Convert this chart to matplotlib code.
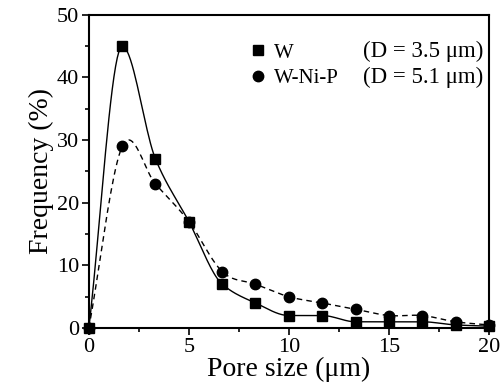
import numpy as np
import matplotlib
matplotlib.use("Agg")
import matplotlib.pyplot as plt
from matplotlib.ticker import MultipleLocator

plt.rcParams['font.family'] = ['Liberation Serif', 'DejaVu Serif']

# pore size classes (um)
pore_size = [0, 1.67, 3.33, 5, 6.67, 8.33, 10, 11.67, 13.33, 15, 16.67, 18.33, 20]
# frequency (%)
freq_w = [0, 45, 27, 17, 7, 4, 2, 2, 1, 1, 1, 0.5, 0.3]
freq_wnip = [0, 29, 23, 17, 9, 7, 5, 4, 3, 2, 2, 1, 0.5]

labels = ["W", "W-Ni-P"]
diam = ["(D = 3.5 \u03bcm)", "(D = 5.1 \u03bcm)"]


def catmull(x, y, n=20):
    # catmull-rom curve through the points
    x = np.asarray(x, float)
    y = np.asarray(y, float)
    px = np.concatenate([[2 * x[0] - x[1]], x, [2 * x[-1] - x[-2]]])
    py = np.concatenate([[2 * y[0] - y[1]], y, [2 * y[-1] - y[-2]]])
    xs, ys = [], []
    t = np.linspace(0, 1, n, endpoint=False)
    for i in range(1, len(px) - 2):
        for p, out in ((px, xs), (py, ys)):
            p0, p1, p2, p3 = p[i - 1], p[i], p[i + 1], p[i + 2]
            out.extend(0.5 * ((2 * p1) + (-p0 + p2) * t
                              + (2 * p0 - 5 * p1 + 4 * p2 - p3) * t ** 2
                              + (-p0 + 3 * p1 - 3 * p2 + p3) * t ** 3))
    xs.append(x[-1])
    ys.append(y[-1])
    return np.array(xs), np.array(ys)


def pchip(x, y, n=20):
    # monotone cubic (Fritsch-Carlson), no overshoot at the peak
    x = np.asarray(x, float)
    y = np.asarray(y, float)
    h = np.diff(x)
    d = np.diff(y) / h
    m = np.zeros_like(y)
    m[0], m[-1] = d[0], d[-1]
    for k in range(1, len(x) - 1):
        if d[k - 1] * d[k] > 0:
            w1 = 2 * h[k] + h[k - 1]
            w2 = h[k] + 2 * h[k - 1]
            m[k] = (w1 + w2) / (w1 / d[k - 1] + w2 / d[k])
    xs, ys = [], []
    t = np.linspace(0, 1, n, endpoint=False)
    for k in range(len(x) - 1):
        h00 = 2 * t ** 3 - 3 * t ** 2 + 1
        h10 = t ** 3 - 2 * t ** 2 + t
        h01 = -2 * t ** 3 + 3 * t ** 2
        h11 = t ** 3 - t ** 2
        xs.extend(x[k] + t * h[k])
        ys.extend(h00 * y[k] + h10 * h[k] * m[k] + h01 * y[k + 1] + h11 * h[k] * m[k + 1])
    xs.append(x[-1])
    ys.append(y[-1])
    return np.array(xs), np.array(ys)


fig = plt.figure(figsize=(5.02, 3.91), dpi=100)
ax = fig.add_axes([0.177, 0.161, 0.797, 0.801])

sx, sy = pchip(pore_size, freq_w)
ax.plot(sx, sy, color='black', lw=1.0)
sx, sy = catmull(pore_size, freq_wnip)
ax.plot(sx, sy, color='black', lw=1.0, ls=(0, (4, 3)))

h1, = ax.plot(pore_size, freq_w, 's', color='black', ms=7, clip_on=False)
h2, = ax.plot(pore_size, freq_wnip, 'o', color='black', ms=7.5, clip_on=False)

ax.set_xlim(0, 20)
ax.set_ylim(0, 50)
ax.xaxis.set_major_locator(MultipleLocator(5))
ax.xaxis.set_minor_locator(MultipleLocator(2.5))
ax.yaxis.set_major_locator(MultipleLocator(10))
ax.yaxis.set_minor_locator(MultipleLocator(5))
ax.tick_params(which='both', direction='out', top=False, right=False,
               labelsize=16, width=1.2, pad=2)
ax.tick_params(which='major', length=5)
ax.tick_params(which='minor', length=3)
for s in ax.spines.values():
    s.set_linewidth(1.5)

ax.set_xlabel("Pore size (\u03bcm)", fontsize=20, labelpad=0)
ax.set_ylabel("Frequency (%)", fontsize=20, labelpad=2)

leg = ax.legend([h1, h2], labels, loc='upper left', bbox_to_anchor=(0.406, 0.91),
                frameon=False, fontsize=15, handletextpad=0.5, borderpad=0,
                labelspacing=0.3, borderaxespad=0, handlelength=0.6)
for i, d in enumerate(diam):
    ax.text(0.985, 0.882 - i * 0.083, d, transform=ax.transAxes,
            ha='right', va='center', fontsize=16.5)

fig.savefig("out.png", dpi=100)
